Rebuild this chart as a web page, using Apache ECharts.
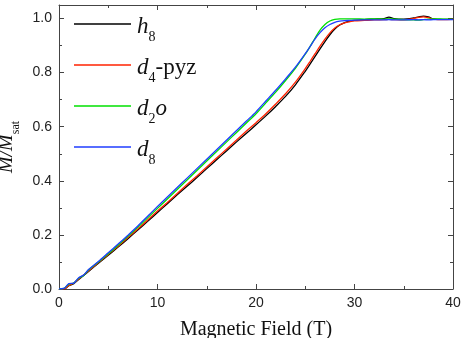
<!DOCTYPE html>
<html>
<head>
<meta charset="utf-8">
<script src="https://cdn.jsdelivr.net/npm/echarts@6/dist/echarts.min.js"></script>
<style>
  html, body { margin: 0; padding: 0; background: #fff; }
  #chart { width: 463px; height: 338px; }
</style>
</head>
<body>
<div id="chart"></div>
<script>
// magnetic field (T)
var field = [0, 0.5, 1, 1.5, 2, 2.5, 3,
  4, 5, 6, 7, 8, 9, 10, 11, 12, 13, 14, 15, 16, 17, 18, 19, 20, 21, 22, 23, 24, 25,
  25.5, 26, 26.5, 27, 27.5, 28, 28.5, 29, 29.5,
  30, 31, 32, 33, 33.5, 34, 35, 36, 36.5, 37, 37.5, 38, 39, 40];

// M / Msat for each sample
var magH8 = [0, 0, 0.012, 0.02, 0.035, 0.05, 0.065,
  0.095, 0.125, 0.155, 0.186, 0.218, 0.25, 0.283, 0.315, 0.348, 0.38, 0.412, 0.445, 0.478, 0.51, 0.543, 0.575, 0.607, 0.64, 0.675, 0.712, 0.755, 0.805,
  0.832, 0.86, 0.888, 0.915, 0.94, 0.961, 0.976, 0.985, 0.99,
  0.993, 0.996, 0.998, 1.0, 1.005, 1.0, 0.998, 1.002, 1.006, 1.009, 1.006, 0.999, 0.997, 0.997];
var magD4pyz = [0, 0, 0.013, 0.022, 0.037, 0.052, 0.067,
  0.098, 0.128, 0.158, 0.19, 0.222, 0.255, 0.288, 0.32, 0.353, 0.386, 0.418, 0.451, 0.484, 0.517, 0.55, 0.583, 0.615, 0.648, 0.684, 0.722, 0.765, 0.815,
  0.842, 0.87, 0.898, 0.924, 0.947, 0.965, 0.977, 0.984, 0.988,
  0.991, 0.993, 0.995, 0.996, 0.997, 0.996, 0.995, 1.0, 1.004, 1.006, 1.003, 0.998, 0.996, 0.997];
var magD2o = [0, 0.002, 0.018, 0.022, 0.04, 0.05, 0.07,
  0.1, 0.13, 0.162, 0.195, 0.228, 0.263, 0.298, 0.333, 0.368, 0.403, 0.438, 0.473, 0.508, 0.543, 0.578, 0.613, 0.648, 0.688, 0.728, 0.771, 0.816, 0.868,
  0.897, 0.928, 0.957, 0.978, 0.991, 0.997, 0.999, 0.999, 0.999,
  0.999, 0.998, 0.999, 0.998, 0.999, 0.998, 0.996, 0.995, 0.994, 0.996, 0.998, 0.999, 0.998, 0.997];
var magD8 = [0, 0.002, 0.02, 0.022, 0.042, 0.052, 0.072,
  0.102, 0.134, 0.166, 0.199, 0.233, 0.269, 0.305, 0.34, 0.375, 0.41, 0.445, 0.48, 0.515, 0.55, 0.585, 0.62, 0.655, 0.695, 0.735, 0.777, 0.82, 0.87,
  0.897, 0.925, 0.948, 0.966, 0.978, 0.986, 0.99, 0.992, 0.993,
  0.994, 0.995, 0.995, 0.995, 0.996, 0.995, 0.995, 0.996, 0.995, 0.996, 0.995, 0.996, 0.996, 0.996];

var seriesNames = ['h8', 'd4-pyz', 'd2o', 'd8'];
var seriesColors = ['#000000', '#ff2200', '#00e000', '#1f3cff'];
var seriesValues = [magH8, magD4pyz, magD2o, magD8];

var legendLabels = {
  'h8': '{i|h}{s|8}',
  'd4-pyz': '{i|d}{s|4}{n|-pyz}',
  'd2o': '{i|d}{s|2}{i|o}',
  'd8': '{i|d}{s|8}'
};

var serif = 'Liberation Serif';
var sans = 'Liberation Sans';
var frameColor = '#444';

function pairs(ys){
  return field.map(function(x, i){ return [x, ys[i]]; });
}

var series = seriesNames.map(function(name, k){
  return {
    name: name,
    type: 'line',
    data: pairs(seriesValues[k]),
    showSymbol: false,
    symbol: 'none',
    smooth: 0.3,
    lineStyle: { color: seriesColors[k], width: 1.3 },
    itemStyle: { color: seriesColors[k] },
    z: 2 + k
  };
});

function frameAxis(pos){
  return {
    axisLine: { show: true, onZero: false, lineStyle: { color: frameColor, width: 1 } },
    axisTick: { show: true, inside: true, length: 5, lineStyle: { color: frameColor } },
    minorTick: { show: true, splitNumber: 2, length: 3, lineStyle: { color: frameColor } },
    splitLine: { show: false },
    position: pos
  };
}

var xBottom = Object.assign(frameAxis('bottom'), {
  type: 'value', min: 0, max: 40, interval: 10,
  axisLabel: { show: true, fontFamily: sans, fontSize: 14, color: '#222', margin: 7 },
  name: 'Magnetic Field (T)', nameLocation: 'middle', nameGap: 31,
  nameTextStyle: { fontFamily: serif, fontSize: 20, color: '#111' }
});
var xTop = Object.assign(frameAxis('top'), {
  type: 'value', min: 0, max: 40, interval: 10,
  axisLabel: { show: false }
});
var yLeft = Object.assign(frameAxis('left'), {
  type: 'value', min: 0, max: 1.05, interval: 0.2,
  axisLabel: { show: true, fontFamily: sans, fontSize: 14, color: '#222', margin: 7,
    formatter: function(v){ return v.toFixed(1); } },
  name: '{i|M/M}{s|sat}', nameLocation: 'middle', nameGap: 33, nameRotate: 90,
  nameTextStyle: {
    rich: {
      i: { fontFamily: serif, fontStyle: 'italic', fontSize: 20, color: '#111', verticalAlign: 'top', lineHeight: 22 },
      s: { fontFamily: serif, fontSize: 12, color: '#111', verticalAlign: 'top', lineHeight: 12, padding: [13, 0, 0, 0] }
    }
  }
});
var yRight = Object.assign(frameAxis('right'), {
  type: 'value', min: 0, max: 1.05, interval: 0.2,
  axisLabel: { show: false }
});

var chart = echarts.init(document.getElementById('chart'), null, { renderer: 'canvas' });
chart.setOption({
  animation: false,
  backgroundColor: '#fff',
  grid: { left: 59, right: 10, top: 5, bottom: 49, containLabel: false, outerBoundsMode: 'none' },
  legend: {
    orient: 'vertical',
    left: 74, top: 12,
    padding: 0,
    icon: 'rect',
    itemWidth: 57, itemHeight: 1.5,
    itemGap: 9,
    data: seriesNames,
    formatter: function(name){ return legendLabels[name]; },
    textStyle: {
      padding: [0, 0, 0, 1],
      rich: {
        i: { fontFamily: serif, fontStyle: 'italic', fontSize: 23, color: '#111', verticalAlign: 'top', lineHeight: 24, padding: [3, 0, 0, 0] },
        n: { fontFamily: serif, fontSize: 23, color: '#111', verticalAlign: 'top', lineHeight: 24, padding: [3, 0, 0, 0] },
        s: { fontFamily: serif, fontSize: 14, color: '#111', verticalAlign: 'top', lineHeight: 14, padding: [18, 0, 0, 0] }
      }
    }
  },
  xAxis: [xBottom, xTop],
  yAxis: [yLeft, yRight],
  series: series
});
</script>
</body>
</html>
